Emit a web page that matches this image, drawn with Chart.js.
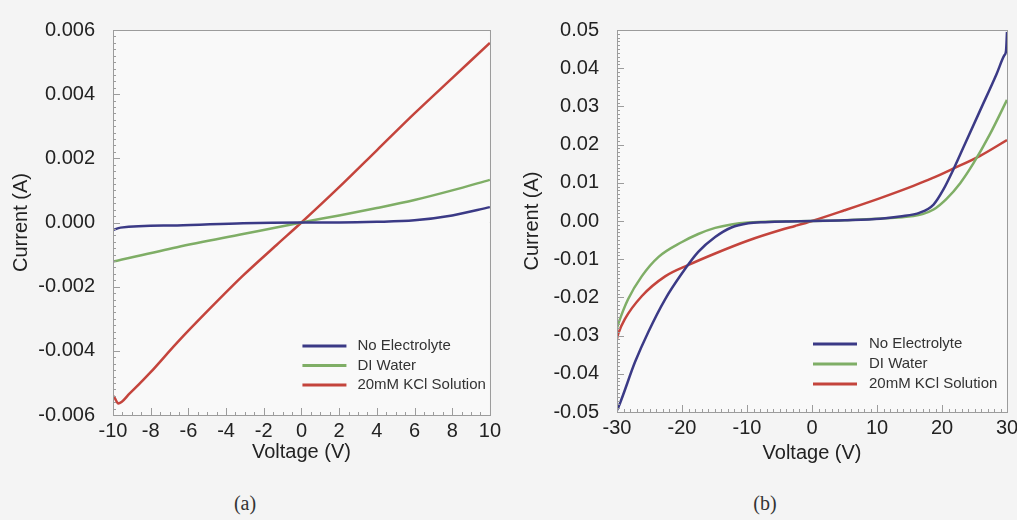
<!DOCTYPE html>
<html>
<head>
<meta charset="utf-8">
<script src="https://cdn.jsdelivr.net/npm/chart.js@4.4.1/dist/chart.umd.min.js"></script>
<style>
  body { margin: 0; background: #f4f4f4; width: 1017px; height: 520px; overflow: hidden; position: relative; }
  canvas { position: absolute; top: 0; }
  #chartA { left: 0; }
  #chartB { left: 505px; }
  .caption { position: absolute; top: 492px; font-family: "Liberation Serif", "DejaVu Serif", serif; font-size: 20px; color: #333; transform: translateX(-50%); }
</style>
</head>
<body>
<canvas id="chartA" width="505" height="470"></canvas>
<canvas id="chartB" width="520" height="470"></canvas>
<div class="caption" style="left:245px">(a)</div>
<div class="caption" style="left:765px">(b)</div>
<script>
// (a) low voltage sweep, -10 V .. 10 V
const voltsBlueA = [-10, -9.6, -6.6, -3.1, 0, 2, 4, 6, 8, 10];
const noElecA = [-0.00024, -0.00016, -0.00009, -0.00002, 0, 0, 0.00002, 0.00007, 0.00022, 0.00048];
const voltsGreenA = [-10, -6.6, -3.1, 0, 2, 4, 6, 8, 10];
const diWaterA = [-0.00122, -0.00077, -0.00036, 0, 0.00022, 0.00045, 0.0007, 0.001, 0.00133];
const voltsRedA = [-10, -9.9, -9.72, -9.1, -8.04, -6.62, -4.85, -3.09, -1.32, 0, 2, 4, 6, 8, 10];
const kclA = [-0.0054, -0.00548, -0.00564, -0.00532, -0.00469, -0.00376, -0.00268, -0.00165, -0.0007, 0, 0.0011, 0.00225, 0.0034, 0.0045, 0.0056];

// (b) high voltage sweep, -30 V .. 30 V
const voltsBlueB = [-30, -29.8, -27.2, -25.2, -22.6, -20, -17.5, -14.9, -12.4, -9.8, -7.2, -4, 0, 5, 10.5, 13.5, 16.6, 18.7, 20.2, 21.7, 23.3, 25.8, 28.4, 29.6, 29.85, 30];
const noElecB = [-0.0495, -0.0488, -0.0368, -0.0291, -0.0205, -0.0137, -0.0081, -0.0042, -0.0017, -0.0006, -0.0003, -0.0001, 0, 0.0002, 0.0006, 0.0012, 0.0022, 0.0043, 0.0082, 0.0133, 0.0193, 0.0287, 0.0385, 0.0434, 0.0445, 0.0495];
const voltsGreenB = [-30, -29.8, -28.3, -26.2, -23.6, -20, -17.5, -14.9, -12.4, -9.8, -5, 0, 5, 10, 15.6, 17, 18.7, 20.7, 22.8, 24.8, 27.4, 30];
const diWaterB = [-0.028, -0.0269, -0.0205, -0.0145, -0.0094, -0.0055, -0.0034, -0.0018, -0.0009, -0.0004, -0.0001, 0, 0.0002, 0.0006, 0.0013, 0.0018, 0.003, 0.0058, 0.0099, 0.015, 0.0228, 0.0317];
const voltsRedB = [-30, -29.8, -28.8, -26.2, -22.6, -19, -14.9, -9.8, -4.7, -2.6, 0, 5, 10.5, 15.6, 18.5, 21.7, 25.8, 30];
const kclB = [-0.0308, -0.0295, -0.0257, -0.0197, -0.0145, -0.0115, -0.0085, -0.0051, -0.0023, -0.0013, 0, 0.0028, 0.006, 0.0092, 0.0112, 0.0137, 0.017, 0.0212];

const seriesNames = ['No Electrolyte', 'DI Water', '20mM KCl Solution'];
const seriesColors = ['#3b3a86', '#7fae66', '#c4443c'];

const font = '"Liberation Sans", Arial, sans-serif';

function pts(xs, ys) {
    return xs.map((x, i) => ({ x: x, y: ys[i] }));
}

// grey frame, minor tick marks along the inside of the left and bottom axes
const frameTicks = {
    id: 'frameTicks',
    beforeDatasetsDraw(chart) {
        const { ctx, chartArea: a } = chart;
        ctx.save();
        ctx.fillStyle = '#f9f9f9';
        ctx.fillRect(a.left, a.top, a.width, a.height);
        ctx.restore();
    },
    afterDatasetsDraw(chart, args, opts) {
        const { ctx, chartArea: a, scales } = chart;
        const x = scales.x, y = scales.y;
        ctx.save();
        ctx.strokeStyle = '#9c9c9c';
        ctx.lineWidth = 1;
        ctx.strokeRect(Math.round(a.left) + 0.5, Math.round(a.top) + 0.5, Math.round(a.width), Math.round(a.height));
        ctx.beginPath();
        const nx = Math.round((x.max - x.min) / opts.xStep);
        const per = Math.round(x.options.ticks.stepSize / opts.xStep);
        for (let i = 0; i <= nx; i++) {
            const px = Math.round(x.getPixelForValue(x.min + i * opts.xStep)) + 0.5;
            const len = i % per === 0 ? 7 : 3;
            ctx.moveTo(px, a.bottom);
            ctx.lineTo(px, a.bottom - len);
        }
        const ny = Math.round((y.max - y.min) / opts.yStep);
        const perY = Math.round(y.options.ticks.stepSize / opts.yStep);
        for (let i = 0; i <= ny; i++) {
            const py = Math.round(y.getPixelForValue(y.min + i * opts.yStep)) + 0.5;
            const len = i % perY === 0 ? 7 : 3;
            ctx.moveTo(a.left, py);
            ctx.lineTo(a.left + len, py);
        }
        ctx.stroke();
        ctx.restore();
    }
};

// legend drawn inside the plot, starting at the V = 0 line
const insideLegend = {
    id: 'insideLegend',
    afterDraw(chart, args, opts) {
        const { ctx, chartArea: a, scales } = chart;
        const x0 = scales.x.getPixelForValue(0);
        ctx.save();
        ctx.font = '15px ' + font;
        ctx.textBaseline = 'middle';
        chart.data.datasets.forEach((ds, i) => {
            const y = a.bottom - opts.bottom + i * opts.gap;
            ctx.strokeStyle = ds.borderColor;
            ctx.lineWidth = 3;
            ctx.beginPath();
            ctx.moveTo(x0 + 1, y);
            ctx.lineTo(x0 + 45, y);
            ctx.stroke();
            ctx.fillStyle = '#333';
            ctx.fillText(ds.label, x0 + opts.textOffset, y);
        });
        ctx.restore();
    }
};

function makeChart(canvasId, data, cfg) {
    const ctx = document.getElementById(canvasId).getContext('2d');
    return new Chart(ctx, {
        type: 'scatter',
        data: {
            datasets: data.map((d, i) => ({
                label: seriesNames[i],
                data: d,
                showLine: true,
                borderColor: seriesColors[i],
                borderWidth: 2.5,
                pointRadius: 0,
                cubicInterpolationMode: 'monotone'
            }))
        },
        options: {
            responsive: false,
            animation: false,
            layout: { padding: cfg.padding },
            plugins: {
                legend: { display: false },
                tooltip: { enabled: false },
                frameTicks: { xStep: cfg.xMinor, yStep: cfg.yMinor },
                insideLegend: cfg.legend
            },
            scales: {
                x: {
                    type: 'linear',
                    min: cfg.xMin,
                    max: cfg.xMax,
                    afterFit: (s) => { s.height = cfg.xHeight; },
                    ticks: {
                        stepSize: cfg.xStep,
                        padding: 4,
                        maxRotation: 0,
                        color: '#222',
                        font: { family: font, size: 20 }
                    },
                    grid: {
                        drawTicks: false,
                        color: (c) => c.tick && c.tick.value === 0 ? '#8c8c8c' : 'rgba(0,0,0,0.05)'
                    },
                    border: { display: false },
                    title: {
                        display: true,
                        text: 'Voltage (V)',
                        color: '#222',
                        font: { family: font, size: 20 },
                        padding: { top: 0, bottom: cfg.xTitlePad }
                    }
                },
                y: {
                    min: cfg.yMin,
                    max: cfg.yMax,
                    afterFit: (s) => { s.width = cfg.yWidth; },
                    ticks: {
                        stepSize: cfg.yStep,
                        padding: 18,
                        color: '#222',
                        font: { family: font, size: 20 },
                        callback: (v) => v.toFixed(cfg.decimals)
                    },
                    grid: {
                        drawTicks: false,
                        color: (c) => c.tick && c.tick.value === 0 ? '#8c8c8c' : 'rgba(0,0,0,0.05)'
                    },
                    border: { display: false },
                    title: {
                        display: true,
                        text: 'Current (A)',
                        color: '#222',
                        font: { family: font, size: 20 },
                        padding: { top: cfg.yTitlePad, bottom: 0 }
                    }
                }
            }
        },
        plugins: [frameTicks, insideLegend]
    });
}

makeChart('chartA', [pts(voltsBlueA, noElecA), pts(voltsGreenA, diWaterA), pts(voltsRedA, kclA)], {
    padding: { top: 30, right: 15, left: 0, bottom: 0 },
    xMin: -10, xMax: 10, xStep: 2, xMinor: 0.5,
    yMin: -0.006, yMax: 0.006, yStep: 0.002, yMinor: 0.0002,
    decimals: 3, yWidth: 113, xHeight: 55, xTitlePad: 6, yTitlePad: 9,
    legend: { bottom: 69, gap: 19.5, textOffset: 56 }
});

makeChart('chartB', [pts(voltsBlueB, noElecB), pts(voltsGreenB, diWaterB), pts(voltsRedB, kclB)], {
    padding: { top: 19, right: 18, left: 0, bottom: 0 },
    xMin: -30, xMax: 30, xStep: 10, xMinor: 1,
    yMin: -0.05, yMax: 0.05, yStep: 0.01, yMinor: 0.001,
    decimals: 2, yWidth: 112, xHeight: 58, xTitlePad: 5, yTitlePad: 15,
    legend: { bottom: 68, gap: 20, textOffset: 57 }
});
</script>
</body>
</html>
